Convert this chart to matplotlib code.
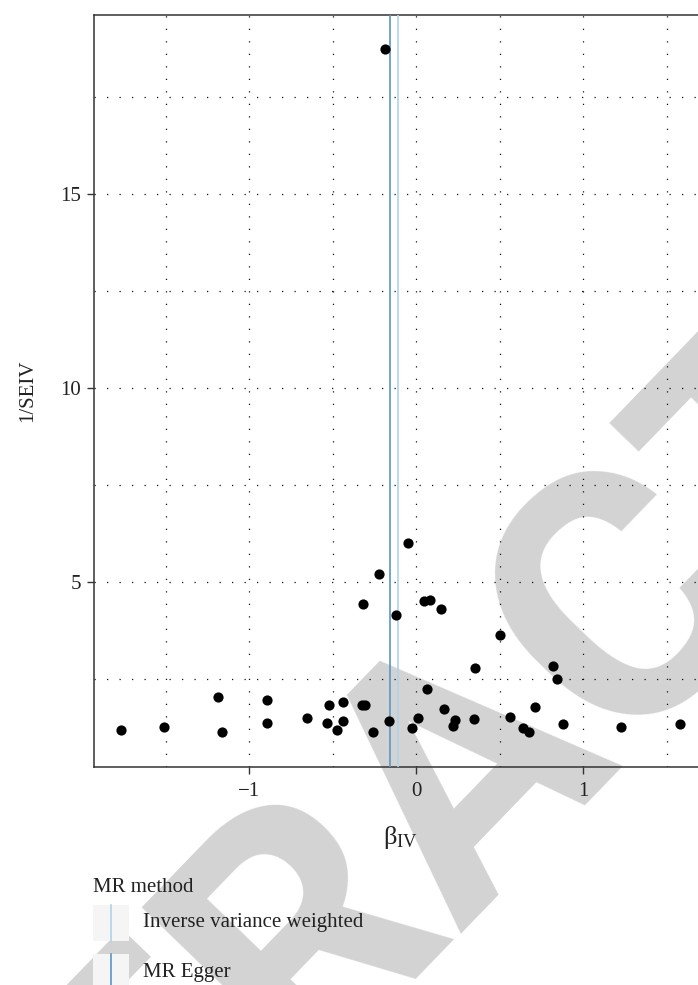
import matplotlib
matplotlib.use("Agg")
import matplotlib.pyplot as plt
from matplotlib.patches import Rectangle
import numpy as np

# SNP estimates
beta_iv = [-1.766, -1.511, -1.190, -1.166, -0.896, -0.896, -0.657, -0.521,
           -0.535, -0.437, -0.439, -0.477, -0.050, -0.220, -0.319, -0.122,
           0.044, 0.084, 0.150, 0.503, 0.351, 0.818, 0.846, 0.064,
           -0.325, -0.305, -0.160, -0.256, 0.008, -0.022, 0.166, 0.234,
           0.220, 0.345, 0.563, 0.713, 0.639, 0.679, 0.878, 1.228,
           1.583, -0.186]
inv_se_iv = [1.18, 1.28, 2.04, 1.14, 1.97, 1.36, 1.49, 1.84,
             1.36, 1.91, 1.42, 1.20, 6.01, 5.21, 4.43, 4.15,
             4.51, 4.54, 4.31, 3.64, 2.78, 2.84, 2.50, 2.24,
             1.84, 1.84, 1.41, 1.15, 1.50, 1.24, 1.73, 1.45,
             1.30, 1.47, 1.52, 1.77, 1.23, 1.13, 1.34, 1.27,
             1.34, 18.73]

methods = ["Inverse variance weighted", "MR Egger"]
method_b = [-0.111, -0.157]
method_colors = ["#b0d2ea", "#5b96c8"]

x_ticks = [-1, 0, 1]
y_ticks = [5, 10, 15]

W, H = 698, 985
plt.rcParams["font.family"] = ["Liberation Serif", "DejaVu Serif"]
plt.rcParams["mathtext.fontset"] = "custom"
plt.rcParams["mathtext.rm"] = "Liberation Serif"
plt.rcParams["mathtext.it"] = "Liberation Serif:italic"

fig = plt.figure(figsize=(W / 100, H / 100), dpi=100)

# watermark layer (behind everything)
bg = fig.add_axes([0, 0, 1, 1], zorder=-5)
bg.set_xlim(0, W)
bg.set_ylim(H, 0)
bg.axis("off")
bg.text(540, 830, "RETRACTED", fontsize=252, fontweight="bold",
        family="Roboto", color="#d3d3d3", rotation=46,
        rotation_mode="anchor", ha="center", va="baseline")

# main panel, right edge runs past the figure (cropped like the original)
ax = fig.add_axes([93.5 / W, 1 - 766.5 / H, (708.3 - 93.5) / W, (766.5 - 15) / H],
                  zorder=1)
ax.patch.set_alpha(0)

xr = max(beta_iv) - min(beta_iv)
yr = max(inv_se_iv) - min(inv_se_iv)
ax.set_xlim(min(beta_iv) - 0.05 * xr, max(beta_iv) + 0.05 * xr)
ax.set_ylim(min(inv_se_iv) - 0.05 * yr, max(inv_se_iv) + 0.05 * yr)

ax.scatter(beta_iv, inv_se_iv, s=54, color="black", zorder=4, linewidths=0)
for b, c in zip(method_b, method_colors):
    ax.axvline(b, color=c, lw=1.2, zorder=3)

ax.set_xticks(x_ticks)
ax.set_yticks(y_ticks)
ax.set_xticks(np.arange(-1.5, 2.0, 1.0), minor=True)
ax.set_yticks(np.arange(2.5, 20, 5.0), minor=True)
ax.set_xticklabels(["\u22121", "0", "1"])
ax.tick_params(which="major", length=4.8, width=1, color="#333333",
               labelsize=15, labelcolor="#222222")
ax.tick_params(axis="x", which="major", pad=6)
ax.tick_params(axis="y", which="major", pad=4)
ax.tick_params(which="minor", length=0)
ax.grid(True, which="both", color="#111111", lw=0.9, ls=(0, (1, 9)))
for s in ax.spines.values():
    s.set_color("#333333")
    s.set_linewidth(1.1)

ax.set_xlabel(r"$\mathrm{\beta}_{\mathrm{IV}}$", fontsize=19, color="#222222",
              labelpad=17)
ax.set_ylabel("1/SEIV", fontsize=15, color="#222222", labelpad=17)

# legend drawn in pixel space
lg = fig.add_axes([0, 0, 1, 1], zorder=2)
lg.set_xlim(0, W)
lg.set_ylim(H, 0)
lg.axis("off")
lg.text(93, 892, "MR method", fontsize=15, color="#222222", va="baseline")
for i, (m, c) in enumerate(zip(methods, method_colors)):
    top = 905 + i * 49
    lg.add_patch(Rectangle((93, top), 36, 36, color="#f5f5f5", lw=0))
    lg.plot([111, 111], [top, top + 36], color=c, lw=1.2)
    lg.text(143, top + 18, m, fontsize=15, color="#222222", va="center")

fig.savefig("out.png", dpi=100)
